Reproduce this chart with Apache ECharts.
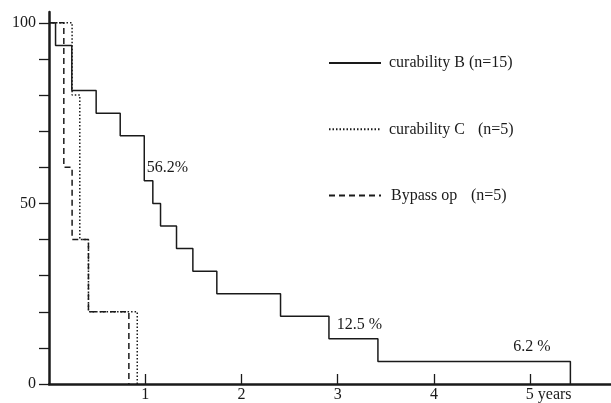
<!DOCTYPE html>
<html><head><meta charset="utf-8">
<script src="https://cdn.jsdelivr.net/npm/echarts@6/dist/echarts.min.js"></script>
<style>html,body{margin:0;padding:0;background:#fff}#c{width:611px;height:403px}</style>
</head><body><div id="c"></div>
<script>
// Kaplan-Meier step data (years, % surviving)
const timesB  = [0, 0.068, 0.237, 0.49, 0.74, 0.99, 1.079, 1.159, 1.325, 1.495, 1.744, 2.406, 2.909, 3.418, 5.418];
const valuesB = [100, 93.75, 81.25, 75, 68.75, 56.25, 50, 43.75, 37.5, 31.25, 25, 18.75, 12.5, 6.25, 0];
const timesC  = [0, 0.24, 0.32, 0.41, 0.917];
const valuesC = [100, 80, 40, 20, 0];
const timesBy  = [0, 0.154, 0.24, 0.41, 0.83];
const valuesBy = [100, 60, 40, 20, 0];
const seriesNames = ['curability B', 'curability C', 'Bypass op'];
const seriesN = ['(n=15)', '(n=5)', '(n=5)'];
const xTicks = [1, 2, 3, 4, 5];
const yTicks = [0, 10, 20, 30, 40, 50, 60, 70, 80, 90, 100];
const yLabels = [0, 50, 100];
const annText = ['56.2%', '12.5 %', '6.2 %'];
const annT = [1.01, 2.985, 4.818];
const annV = [60, 16.3, 10.2];

const pairs = (t, v) => t.map((x, i) => [x, v[i]]);
const FONT = 'Liberation Serif';
const INK = '#1a1a1a';

const chart = echarts.init(document.getElementById('c'), null, {renderer: 'canvas'});
const mk = annText.map((s, i) => ({
  coord: [annT[i], annV[i]], symbol: 'rect', symbolSize: 1,
  itemStyle: {color: 'rgba(0,0,0,0)'},
  label: {show: true, formatter: s, position: 'right', distance: 0, offset: [0, 0],
          fontFamily: FONT, fontSize: 16, color: INK}
}));
chart.setOption({
  animation: false,
  backgroundColor: '#fff',
  grid: {left: 49, right: 0, top: 12, bottom: 17},
  xAxis: {
    type: 'value', min: 0, max: 5.84,
    axisLine: {lineStyle: {color: INK, width: 2.5}},
    axisTick: {show: true, inside: true, length: 10, customValues: xTicks, lineStyle: {color: INK, width: 1.3}},
    axisLabel: {customValues: xTicks, margin: 3, fontFamily: FONT, fontSize: 16, color: INK,
      formatter: v => v === 5 ? '{y|5 years}' : String(v),
      rich: {y: {fontFamily: FONT, fontSize: 16, color: INK, padding: [0, 0, 0, 37]}}},
    splitLine: {show: false}
  },
  yAxis: {
    type: 'value', min: 0, max: 103,
    axisLine: {show: true, lineStyle: {color: INK, width: 2.5}},
    axisTick: {show: true, length: 10, customValues: yTicks, lineStyle: {color: INK, width: 1.3}},
    axisLabel: {customValues: yLabels, margin: 13, fontFamily: FONT, fontSize: 16, color: INK},
    splitLine: {show: false}
  },
  legend: {
    orient: 'vertical', left: 328, top: 55, padding: 0, itemWidth: 52, itemHeight: 14, itemGap: 50.3,
    data: seriesNames,
    itemStyle: {opacity: 0},
    formatter: name => {
      const i = seriesNames.indexOf(name);
      return '{n' + i + '|' + name + '}{c|' + seriesN[i] + '}';
    },
    textStyle: {fontFamily: FONT, fontSize: 16, color: INK,
      rich: {
        n0: {fontFamily: FONT, fontSize: 16, color: INK, width: 80, padding: [0, 0, 0, 3]},
        n1: {fontFamily: FONT, fontSize: 16, color: INK, width: 89, padding: [0, 0, 0, 3]},
        n2: {fontFamily: FONT, fontSize: 16, color: INK, width: 80, padding: [0, 0, 0, 5]},
        c: {fontFamily: FONT, fontSize: 16, color: INK}
      }}
  },
  series: [
    {name: seriesNames[0], type: 'line', step: 'end', symbol: 'none', data: pairs(timesB, valuesB),
     lineStyle: {color: INK, width: 1.5, type: 'solid'}, itemStyle: {color: INK},
     markPoint: {data: mk, animation: false}},
    {name: seriesNames[1], type: 'line', step: 'end', symbol: 'none', data: pairs(timesC, valuesC),
     lineStyle: {color: INK, width: 1.5, type: [1.5, 2]}, itemStyle: {color: INK}},
    {name: seriesNames[2], type: 'line', step: 'end', symbol: 'none', data: pairs(timesBy, valuesBy),
     lineStyle: {color: INK, width: 1.5, type: [6, 4]}, itemStyle: {color: INK}}
  ]
});
</script></body></html>
